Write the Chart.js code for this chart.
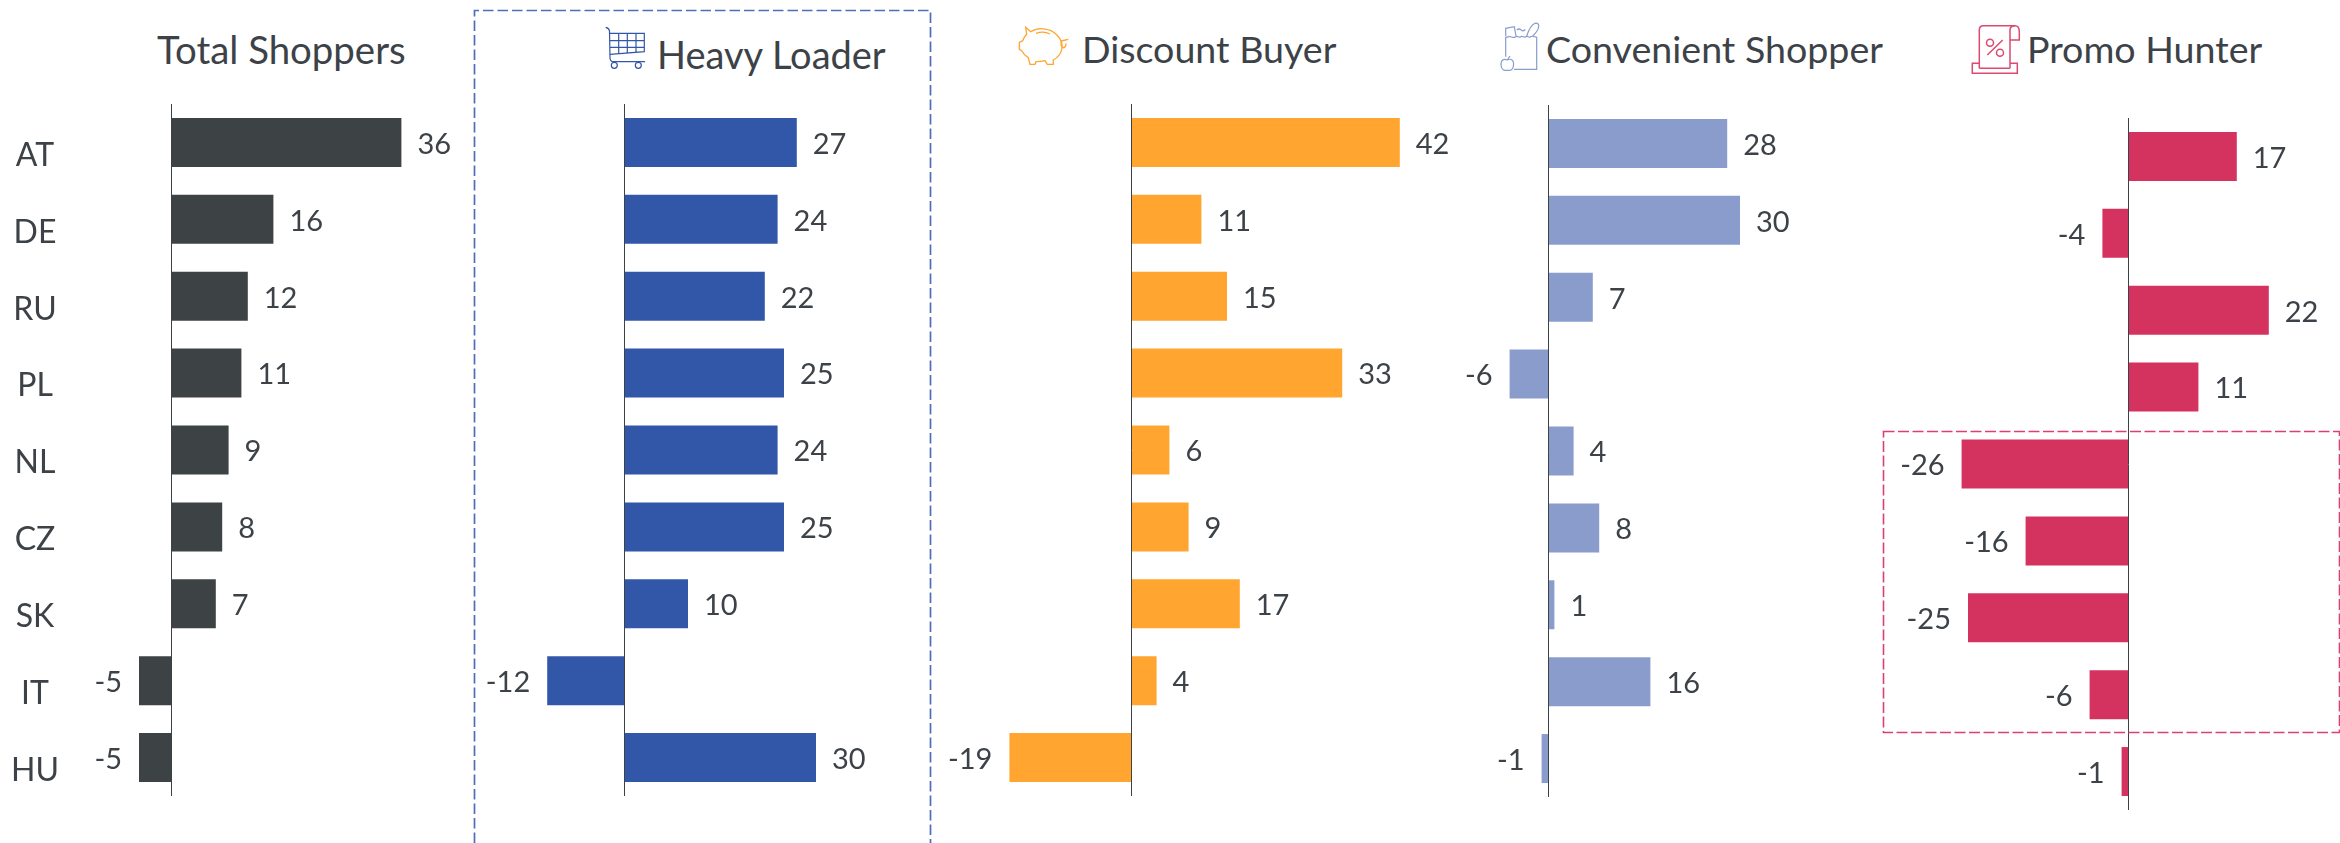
<!DOCTYPE html>
<html lang="en">
<head>
  <meta charset="UTF-8">
  <title>Shopper types by country</title>
  <script src="https://cdn.jsdelivr.net/npm/chart.js"></script>
  <style>
    html, body {
      margin: 0;
      background: #ffffff;
    }
    #page {
      position: relative;
      width: 2340px;
      height: 843px;
      overflow: hidden;
      font-family: 'Lato', sans-serif;
      color: #3c4247;
    }
    .panel {
      position: absolute;
    }
    .title {
      position: absolute;
      font-size: 37.6px;
      line-height: 44px;
      white-space: nowrap;
    }
    #overlay {
      position: absolute;
      left: 0;
      top: 0;
      pointer-events: none;
    }
  </style>
</head>
<body>
  <div id="page">
    <div class="title" style="left:157px;top:27px;font-size:38.4px">Total Shoppers</div>
    <div class="title" style="left:657px;top:32px;font-size:38px">Heavy Loader</div>
    <div class="title" style="left:1082px;top:27px">Discount Buyer</div>
    <div class="title" style="left:1546px;top:27px">Convenient Shopper</div>
    <div class="title" style="left:2027px;top:27px">Promo Hunter</div>

    <div class="panel" style="left:11px;top:104px"><canvas id="total"></canvas></div>
    <div class="panel" style="left:464px;top:104px"><canvas id="heavy"></canvas></div>
    <div class="panel" style="left:907px;top:104px"><canvas id="discount"></canvas></div>
    <div class="panel" style="left:1388px;top:105px"><canvas id="convenient"></canvas></div>
    <div class="panel" style="left:1872px;top:118px"><canvas id="promo"></canvas></div>

    <svg id="overlay" width="2340" height="843" fill="none">
      <!-- highlight boxes -->
      <path d="M474.5 843V10.5H930.5V843" stroke="#4d6fb8" stroke-width="1.7" stroke-dasharray="10.5 4"/>
      <rect x="1883.5" y="431.5" width="456" height="301" stroke="#dd4070" stroke-width="1.6" stroke-dasharray="11 3.5"/>

      <!-- cart -->
      <g stroke="#3357a8" stroke-width="1.2">
        <path d="M605.7 27.3c3 .7 3.600 1.700 3.800 3.700L610 58c.2 2.500 1.500 3.700 3.300 3.700H645"/>
        <path d="M610 33.300h34.300v18.400L610 54.300M610 40.700h34.300M610 47.300h34.300M618.700 33.300v20.400M627.300 33.300v19.700M636 33.300v19"/>
        <circle cx="614.300" cy="65.300" r="3"/><circle cx="638.300" cy="65.300" r="3"/>
      </g>
      <!-- piggy bank -->
      <g stroke="#ffa530" stroke-width="1.3">
        <path d="M1025.700 27.300l5 4.400c7-4.400 19-4.400 26 3 5 5 6 11 5 15-1 4-4 8-8.400 10.300v4.300h-6l-2.300-3.600c-3 .7-6 1-9 1l-1 2.600h-5l-1.700-6.600c-3-2-5.300-4.400-6.600-7l-2.400-1.400v-7l3.400-1.600c1-2.500 2.300-4.700 4-6.700z"/>
        <path d="M1036 33.300c4.500-1.500 9.500-1.500 14 .7M1061 41l7.300-1.700M1062 40.500a2.500 4 0 1 0 4 3"/>
      </g>
      <!-- grocery bag -->
      <g stroke="#8a9ccc" stroke-width="1.2">
        <path d="M1505.700 37v19.700M1536.700 37v32.300H1514"/>
        <path d="M1505.700 36.700c2 1.500 3-1 5 0s3 1.500 5 0 3 1.500 5 0 3 1.500 5 0 3 1.500 5 0 3 1 6 0"/>
        <path d="M1505.700 36l0-7.700 8.600-1.600 1.700 9.300M1516.700 30c2-1.500 3.500-1.500 5 .5 1.500 1 2.500 0 3.500-1M1526.700 36c2-6 4-11 8.300-12.700 2.500-.7 4 .7 3.700 3-.3 3-3 7-6 9.700"/>
        <path d="M1507.300 60c4-2 6.500 .5 6.300 4-.2 4-2 6.300-4 6.300h-4.600c-2 0-4-2.300-4-6.300 0-3.500 2.300-6 6.300-4zM1507.300 60l2.700-4"/>
      </g>
      <!-- receipt -->
      <g stroke="#dd4a70" stroke-width="1.5">
        <path d="M1979.300 68.300V30c0-2.800 1.500-4.300 4-4.300H2015c2.800 0 4.300 2.500 4.300 6V40H2010"/>
        <path d="M2010 68.300V30c0-2.500 2-4.300 5-4.300"/>
        <path d="M1979.300 63.300h-7v10h45v-10h-7.300M1979.300 68.300H2010"/>
        <circle cx="1990" cy="42.700" r="3.500"/><circle cx="2000" cy="52.700" r="3.500"/>
        <path d="M1987.300 55l15.400-15"/>
      </g>
    </svg>
  </div>

  <script>
    const categories = ['AT', 'DE', 'RU', 'PL', 'NL', 'CZ', 'SK', 'IT', 'HU'];

    const totalShoppers = [36, 16, 12, 11, 9, 8, 7, -5, -5];
    const heavyLoader = [27, 24, 22, 25, 24, 25, 10, -12, 30];
    const discountBuyer = [42, 11, 15, 33, 6, 9, 17, 4, -19];
    const convenientShopper = [28, 30, 7, -6, 4, 8, 1, 16, -1];
    const promoHunter = [17, -4, 22, 11, -26, -16, -25, -6, -1];

    const pxPerUnit = 6.4;
    const panelHeight = 692;
    const textColor = '#3c4247';

    // value labels next to the bars, country names on the first panel only
    const labelPlugin = {
      id: 'barLabels',
      afterDatasetsDraw(chart, args, opts) {
        const ctx = chart.ctx;
        const bars = chart.getDatasetMeta(0).data;
        const values = chart.data.datasets[0].data;
        ctx.save();
        ctx.fillStyle = textColor;
        ctx.textBaseline = 'middle';
        ctx.font = '29px Lato';
        bars.forEach((bar, i) => {
          const negative = values[i] < 0;
          ctx.textAlign = negative ? 'right' : 'left';
          ctx.fillText(values[i], bar.x + (negative ? -17 : 16), bar.y + 2);
        });
        if (opts.showCategories) {
          ctx.font = '32px Lato';
          ctx.textAlign = 'center';
          chart.data.labels.forEach((label, i) => {
            ctx.fillText(label, 24, chart.scales.y.getPixelForValue(i) + 13);
          });
        }
        ctx.restore();
      }
    };

    function drawPanel(id, values, color, min, max, showCategories) {
      const canvas = document.getElementById(id);
      canvas.parentNode.style.width = (max - min) * pxPerUnit + 'px';
      canvas.parentNode.style.height = panelHeight + 'px';
      return new Chart(canvas, {
        type: 'bar',
        data: {
          labels: categories,
          datasets: [{
            data: values,
            backgroundColor: color,
            categoryPercentage: 1,
            barPercentage: 0.637
          }]
        },
        options: {
          indexAxis: 'y',
          responsive: true,
          maintainAspectRatio: false,
          animation: false,
          layout: { padding: 0 },
          scales: {
            x: { display: false, min: min, max: max },
            y: {
              position: { x: 0 },
              grid: { display: false },
              ticks: { display: false },
              border: { color: textColor, width: 1, z: 1 }
            }
          },
          plugins: {
            legend: { display: false },
            tooltip: { enabled: false },
            barLabels: { showCategories: showCategories }
          }
        },
        plugins: [labelPlugin]
      });
    }

    drawPanel('total', totalShoppers, '#3d4245', -25, 50, true);
    drawPanel('heavy', heavyLoader, '#3357a8', -25, 40, false);
    drawPanel('discount', discountBuyer, '#ffa530', -35, 50, false);
    drawPanel('convenient', convenientShopper, '#8a9ccc', -25, 45, false);
    drawPanel('promo', promoHunter, '#d4335f', -40, 30, false);
  </script>
</body>
</html>
